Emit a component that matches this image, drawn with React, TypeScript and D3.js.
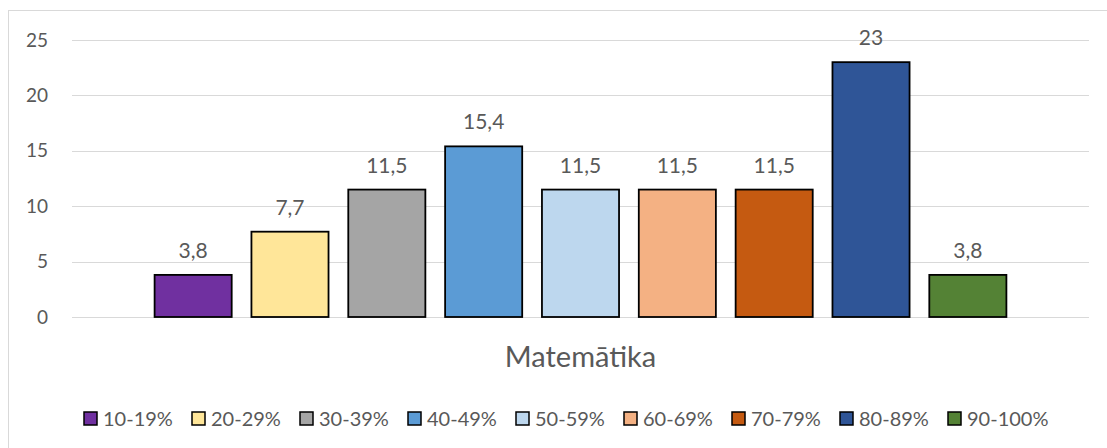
import React from "react";
import * as d3 from "d3";

const categories = ["10-19%", "20-29%", "30-39%", "40-49%", "50-59%", "60-69%", "70-79%", "80-89%", "90-100%"];
const values = [3.8, 7.7, 11.5, 15.4, 11.5, 11.5, 11.5, 23, 3.8];
const colors = ["#7030A0", "#FFE699", "#A5A5A5", "#5B9BD5", "#BDD7EE", "#F4B183", "#C55A11", "#2F5597", "#548235"];
const yTicks = [0, 5, 10, 15, 20, 25];
const title = "Matemātika";

const W = 1107;
const H = 448;
const FONT = "Lato, Calibri, 'Liberation Sans', sans-serif";
const TEXT = "#595959";

export default function App() {
  const plotLeft = 72;
  const plotRight = 1089;
  const y = d3.scaleLinear().domain([0, 25]).range([317, 40]);
  const x = d3
    .scaleBand<string>()
    .domain(categories)
    .range([plotLeft, plotRight])
    .paddingInner(0.204)
    .paddingOuter(0.853);
  const fmt = (v: number) => String(v).replace(".", ",");

  const legendStart = 84;
  const legendStep = 108;

  return (
    <svg
      width={W}
      height={H}
      style={{ position: "absolute", left: 0, top: 0, display: "block" }}
      fontFamily={FONT}
    >
      <rect x={0} y={0} width={W} height={H} fill="#ffffff" />
      <rect x={8.5} y={10.5} width={1120} height={460} fill="none" stroke="#D9D9D9" strokeWidth={1} />
      {yTicks.map((t) => (
        <g key={t}>
          <line x1={plotLeft} x2={plotRight} y1={Math.round(y(t)) + 0.5} y2={Math.round(y(t)) + 0.5} stroke="#D9D9D9" strokeWidth={1.2} />
          <text x={48} y={y(t)} dy="0.35em" textAnchor="end" fontSize={19} fill={TEXT}>
            {t}
          </text>
        </g>
      ))}
      {categories.map((c, i) => (
        <g key={c}>
          <rect
            x={x(c)}
            y={y(values[i])}
            width={x.bandwidth()}
            height={y(0) - y(values[i])}
            fill={colors[i]}
            stroke="#000"
            strokeWidth={1.8}
          />
          <text
            x={(x(c) as number) + x.bandwidth() / 2}
            y={y(values[i]) - 17}
            textAnchor="middle"
            fontSize={21}
            fill={TEXT}
          >
            {fmt(values[i])}
          </text>
        </g>
      ))}
      <text x={(plotLeft + plotRight) / 2} y={367} textAnchor="middle" fontSize={29} fill={TEXT}>
        {title}
      </text>
      {categories.map((c, i) => {
        const lx = legendStart + i * legendStep;
        return (
          <g key={"lg" + c}>
            <rect x={lx} y={412} width={13} height={13} fill={colors[i]} stroke="#000" strokeWidth={1.5} />
            <text x={lx + 19} y={426} fontSize={20} fill={TEXT}>
              {c}
            </text>
          </g>
        );
      })}
    </svg>
  );
}
